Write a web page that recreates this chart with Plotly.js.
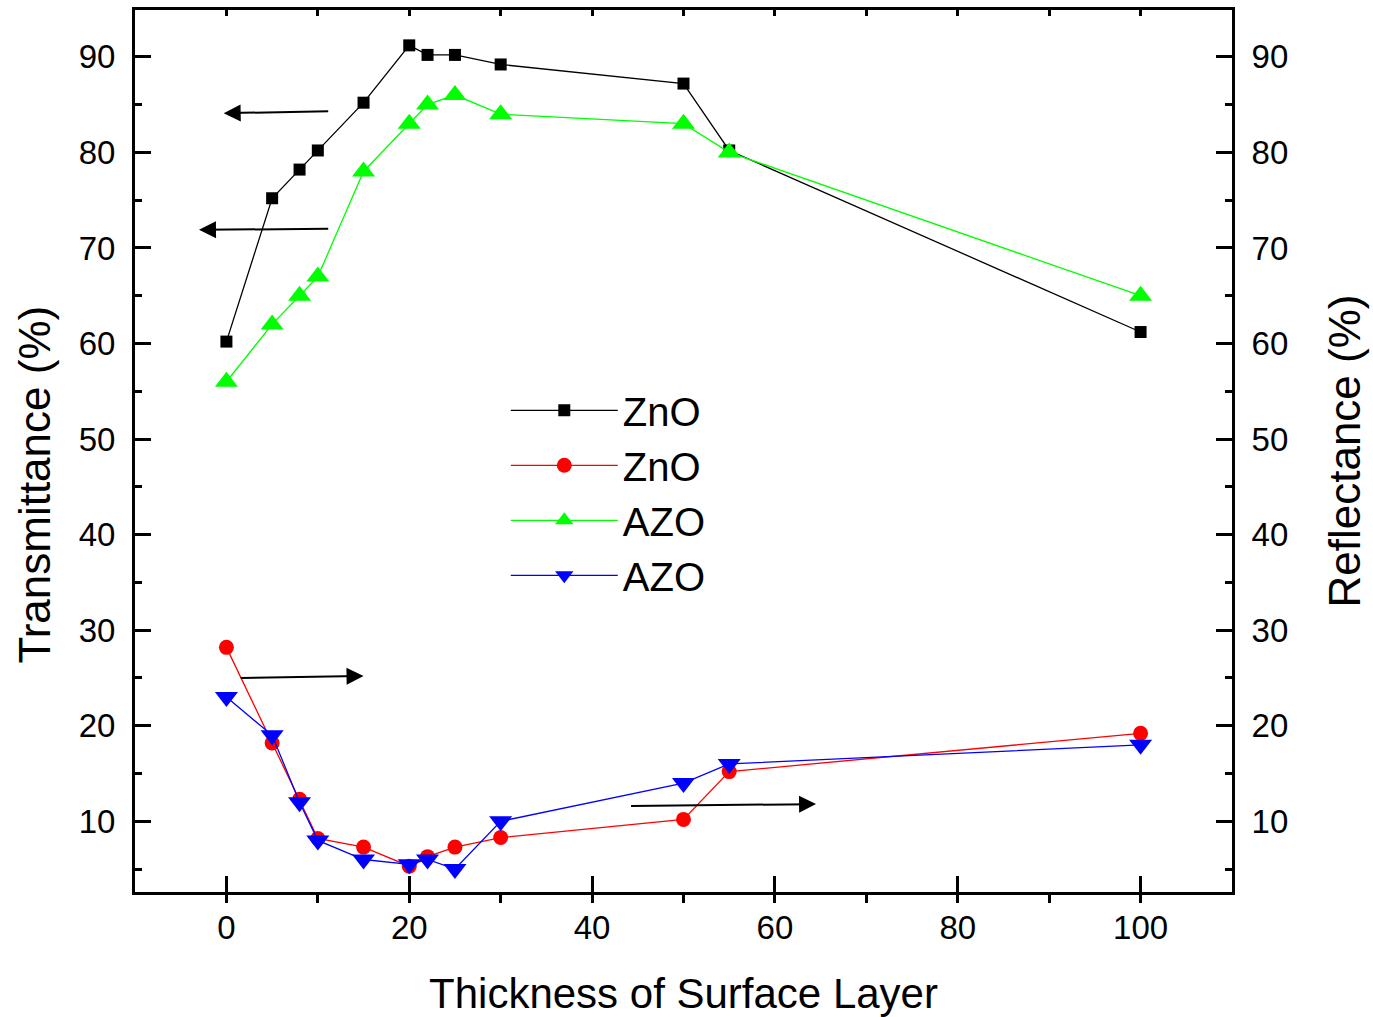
<!DOCTYPE html>
<html>
<head>
<meta charset="utf-8">
<script src="https://cdn.plot.ly/plotly-3.0.1.min.js"></script>
<style>html,body{margin:0;padding:0;background:#fff;}#chart{width:1373px;height:1017px;}</style>
</head>
<body>
<div id="chart"></div>
<script>
// Thickness of surface layer (x)
const thickness = [0, 5, 8, 10, 15, 20, 22, 25, 30, 50, 55, 100];
// Transmittance (%)
const znoTransmittance = [60.2, 75.2, 78.2, 80.2, 85.2, 91.2, 90.2, 90.2, 89.2, 87.2, 80.2, 61.2];
const azoTransmittance = [56, 62, 65, 67, 78, 83, 85, 86, 84, 83, 80, 65];
// Reflectance (%)
const znoReflectance = [28.2, 18.2, 12.3, 8.2, 7.3, 5.3, 6.3, 7.3, 8.3, 10.2, 15.2, 19.2];
const azoReflectance = [23, 19, 12, 8, 6, 5.5, 6, 5, 10, 14, 16, 18];
// Legend names
const seriesNames = ["ZnO", "ZnO", "AZO", "AZO"];
// Axis titles
const xTitle = 'Thickness of Surface Layer';
const yLeftTitle = 'Transmittance (%)';
const yRightTitle = 'Reflectance (%)';
// Axis tick values
const xTickVals = [0, 20, 40, 60, 80, 100];
const yTickVals = [10, 20, 30, 40, 50, 60, 70, 80, 90];
// Indicator arrows: [tailX, tailY, headX, headY] in data units
const arrowTailX = [11.3, 11.3, 1.4, 44.1];
const arrowTailY = [84.3, 72.0, 25.0, 11.6];
const arrowHeadX = [-0.3, -3.0, 15.0, 64.5];
const arrowHeadY = [84.1, 71.9, 25.2, 11.8];

const FONT = "Arial, 'Liberation Sans', sans-serif";

const traces = [
  {x: thickness, y: znoTransmittance, name: seriesNames[0], xaxis: 'x', yaxis: 'y', mode: 'lines+markers',
   line: {color: '#000000', width: 1.3}, marker: {symbol: 'square', size: 12, color: '#000000'}},
  {x: thickness, y: znoReflectance, name: seriesNames[1], xaxis: 'x2', yaxis: 'y2', mode: 'lines+markers',
   line: {color: '#ff0000', width: 1.3}, marker: {symbol: 'circle', size: 15, color: '#ff0000'}},
  {x: thickness, y: azoTransmittance, name: seriesNames[2], xaxis: 'x', yaxis: 'y', mode: 'lines+markers',
   line: {color: '#00ff00', width: 1.3}, marker: {symbol: 'triangle-up', size: 20, color: '#00ff00'}},
  {x: thickness, y: azoReflectance, name: seriesNames[3], xaxis: 'x2', yaxis: 'y2', mode: 'lines+markers',
   line: {color: '#0000ff', width: 1.3}, marker: {symbol: 'triangle-down', size: 20, color: '#0000ff'}}
];

const xRange = [-10, 110];
const yRange = [2.6, 94.9];

const annotations = arrowTailX.map((tx, i) => ({
  x: arrowHeadX[i], y: arrowHeadY[i], xref: 'x', yref: 'y',
  ax: tx, ay: arrowTailY[i], axref: 'x', ayref: 'y',
  text: '', showarrow: true, arrowhead: 2, arrowsize: 1.7, arrowwidth: 2, arrowcolor: '#000', standoff: 0, startstandoff: 0
}));
// Left axis title (placed as rotated text, slightly below the plot's vertical centre as in the original)
annotations.push({
  text: yLeftTitle, xref: 'paper', yref: 'paper', x: -0.092, y: 0.462,
  xanchor: 'center', yanchor: 'middle', textangle: -90, showarrow: false,
  font: {family: FONT, size: 44, color: '#000'}
});

const layout = {
  width: 1373, height: 1017,
  paper_bgcolor: '#ffffff', plot_bgcolor: '#ffffff',
  margin: {l: 135, r: 141, t: 10, b: 125, pad: 0},
  font: {family: FONT, color: '#000', size: 33},
  showlegend: true,
  legend: {
    x: 0.338, y: 0.583, xanchor: 'left', yanchor: 'top',
    bgcolor: 'rgba(0,0,0,0)', borderwidth: 0,
    font: {family: FONT, size: 40, color: '#000'},
    itemwidth: 107, tracegroupgap: 0
  },
  xaxis: {
    range: xRange, showgrid: false, zeroline: false,
    showline: true, linewidth: 3, linecolor: '#000', mirror: false,
    tickmode: 'array', tickvals: xTickVals, ticks: 'inside', ticklen: 16, tickwidth: 3, tickcolor: '#000',
    minor: {dtick: 10, tick0: -10, ticks: 'outside', ticklen: 8, tickwidth: 3, tickcolor: '#000', showgrid: false},
    tickfont: {family: FONT, size: 33}, ticklabelstandoff: 4,
    title: {text: xTitle, font: {family: FONT, size: 42}, standoff: 40}
  },
  xaxis2: {
    range: xRange, overlaying: 'x', side: 'top', showgrid: false, zeroline: false,
    showline: true, linewidth: 3, linecolor: '#000',
    tickmode: 'linear', tick0: 0, dtick: 10, ticks: 'inside', ticklen: 6, tickwidth: 3, tickcolor: '#000',
    showticklabels: false
  },
  yaxis: {
    range: yRange, showgrid: false, zeroline: false,
    showline: true, linewidth: 3, linecolor: '#000',
    tickmode: 'array', tickvals: yTickVals, ticks: 'inside', ticklen: 16, tickwidth: 3, tickcolor: '#000',
    minor: {dtick: 5, tick0: 0, ticks: 'inside', ticklen: 7, tickwidth: 3, tickcolor: '#000', showgrid: false},
    tickfont: {family: FONT, size: 33}, ticklabelstandoff: 10
  },
  yaxis2: {
    range: yRange, overlaying: 'y', side: 'right', showgrid: false, zeroline: false,
    showline: true, linewidth: 3, linecolor: '#000',
    tickmode: 'array', tickvals: yTickVals, ticks: 'inside', ticklen: 16, tickwidth: 3, tickcolor: '#000',
    minor: {dtick: 5, tick0: 0, ticks: 'inside', ticklen: 7, tickwidth: 3, tickcolor: '#000', showgrid: false},
    tickfont: {family: FONT, size: 33}, ticklabelstandoff: 10,
    title: {text: yRightTitle, font: {family: FONT, size: 44}, standoff: 42}
  },
  annotations: annotations
};

Plotly.newPlot('chart', traces, layout, {displayModeBar: false, staticPlot: true});
</script>
</body>
</html>
